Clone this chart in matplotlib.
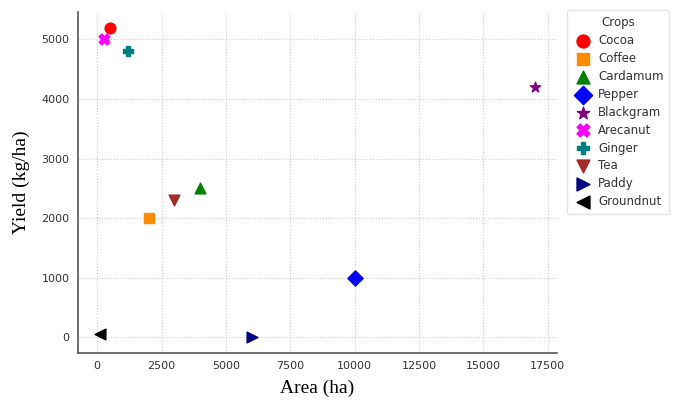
import matplotlib
matplotlib.use("Agg")
import matplotlib.pyplot as plt

# crop data
crops = ["Cocoa", "Coffee", "Cardamum", "Pepper", "Blackgram",
         "Arecanut", "Ginger", "Tea", "Paddy", "Groundnut"]
area = [500, 2000, 4000, 10000, 17000, 250, 1200, 3000, 6000, 100]
yield_kg = [5200, 2000, 2500, 1000, 4200, 5000, 4800, 2300, 0, 50]

markers = ["o", "s", "^", "D", "*", "X", "P", "v", ">", "<"]
colors = ["red", "darkorange", "green", "blue", "purple",
          "magenta", "teal", "brown", "navy", "black"]

fig = plt.figure(figsize=(6.74, 4.01), dpi=100)
ax = fig.add_axes([0.1157, 0.120, 0.710, 0.850])

for name, x, y, m, c in zip(crops, area, yield_kg, markers, colors):
    ax.scatter(x, y, marker=m, color=c, s=60, label=name, zorder=3)

ax.grid(True, linestyle=":", color="#cccccc", linewidth=0.8)
ax.set_axisbelow(True)

for side in ["top", "right"]:
    ax.spines[side].set_visible(False)
for side in ["left", "bottom"]:
    ax.spines[side].set_color("#555555")
    ax.spines[side].set_linewidth(1.2)

ax.tick_params(length=0, labelsize=8, labelcolor="#333333", pad=6)
ax.set_xticks([0, 2500, 5000, 7500, 10000, 12500, 15000, 17500])
ax.set_yticks([0, 1000, 2000, 3000, 4000, 5000])

ax.set_xlabel("Area (ha)", fontfamily="Liberation Serif", fontsize=14, labelpad=6)
ax.set_ylabel("Yield (kg/ha)", fontfamily="Liberation Serif", fontsize=14, labelpad=8)

leg = fig.legend(title="Crops", loc="upper left", bbox_to_anchor=(0.833, 0.99),
                 fontsize=8.5, title_fontsize=8.5, frameon=True, markerscale=1.2,
                 handletextpad=0.5, labelspacing=0.42, borderpad=0.5,
                 handlelength=1.6)
leg.get_frame().set_edgecolor("#dddddd")
for t in leg.get_texts():
    t.set_color("#333333")
leg.get_title().set_color("#333333")

fig.savefig("out.png", dpi=100)
